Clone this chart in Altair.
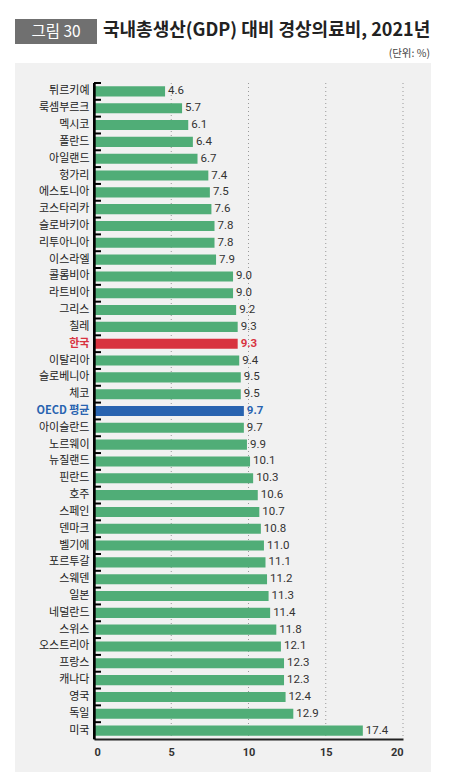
import pandas as pd
import altair as alt

# data (top to bottom)
countries = ["튀르키예", "룩셈부르크", "멕시코", "폴란드", "아일랜드", "헝가리",
             "에스토니아", "코스타리카", "슬로바키아", "리투아니아", "이스라엘",
             "콜롬비아", "라트비아", "그리스", "칠레", "한국", "이탈리아",
             "슬로베니아", "체코", "OECD 평균", "아이슬란드", "노르웨이",
             "뉴질랜드", "핀란드", "호주", "스페인", "덴마크", "벨기에",
             "포르투갈", "스웨덴", "일본", "네덜란드", "스위스", "오스트리아",
             "프랑스", "캐나다", "영국", "독일", "미국"]
values = [4.6, 5.7, 6.1, 6.4, 6.7, 7.4, 7.5, 7.6, 7.8, 7.8, 7.9, 9.0, 9.0,
          9.2, 9.3, 9.3, 9.4, 9.5, 9.5, 9.7, 9.7, 9.9, 10.1, 10.3, 10.6,
          10.7, 10.8, 11.0, 11.1, 11.2, 11.3, 11.4, 11.8, 12.1, 12.3, 12.3,
          12.4, 12.9, 17.4]
x_ticks = [0, 5, 10, 15, 20]

fig_label = "그림 30"
title_text = "국내총생산(GDP) 대비 경상의료비, 2021년"
unit_text = "(단위: %)"

KR = "Noto Sans CJK KR"
W, H = 309, 656
step = H / len(countries)

df = pd.DataFrame({"country": countries, "value": values})
df["group"] = df["country"].map({"한국": "korea", "OECD 평균": "oecd"}).fillna("other")

color = alt.Color("group:N", legend=None,
                  scale=alt.Scale(domain=["other", "korea", "oecd"],
                                  range=["#50ad77", "#d8333f", "#2863b0"]))
y = alt.Y("country:N", sort=countries, title=None,
          scale=alt.Scale(paddingInner=0.4, paddingOuter=0.2),
          axis=alt.Axis(ticks=False, domainColor="black", domainWidth=2.4,
                        labelFont=KR, labelFontSize=11, labelPadding=5,
                        labelColor={"expr": "datum.value == '한국' ? '#d8333f' : datum.value == 'OECD 평균' ? '#2863b0' : '#222'"},
                        labelFontWeight={"expr": "datum.value == '한국' || datum.value == 'OECD 평균' ? 'bold' : 'normal'"},
                        zindex=1))
x = alt.X("value:Q", title=None,
          scale=alt.Scale(domain=[0, 20], nice=False),
          axis=alt.Axis(values=x_ticks, grid=False, ticks=False,
                        domainColor="#222222", domainWidth=2,
                        labelFont="Roboto", labelFontSize=11, labelFontWeight="bold",
                        labelColor="#333", labelPadding=7, zindex=1))

one = pd.DataFrame({"k": [0]})

# grey panel behind the plot
panel = alt.Chart(one).mark_rect(color="#f1f1f1").encode(
    x=alt.value(-79), x2=alt.value(337), y=alt.value(-20), y2=alt.value(689))

# dotted grid lines
grid = alt.Chart(pd.DataFrame({"value": x_ticks[1:]})).mark_rule(
    color="#999", strokeDash=[1, 3], strokeWidth=1).encode(
    x=x, y=alt.value(0), y2=alt.value(H))

bars = alt.Chart(df).mark_bar().encode(x=x, y=y, color=color)

# y axis line drawn on top of the bars
axis_line = alt.Chart(one).mark_rule(color="black", strokeWidth=2).encode(
    x=alt.value(0), y=alt.value(0), y2=alt.value(H))

# small category ticks at the top edge of each band
ticks = alt.Chart(df).mark_rule(color="black", strokeWidth=2, yOffset=-step / 2).encode(
    y=y, x=alt.value(0), x2=alt.value(7))

labels = alt.Chart(df).transform_filter("datum.group == 'other'").mark_text(
    align="left", baseline="middle", dx=3, font="Roboto", fontSize=11.5, color="#333").encode(
    x=x, y=y, text=alt.Text("value:Q", format=".1f"))
hl_labels = alt.Chart(df).transform_filter("datum.group != 'other'").mark_text(
    align="left", baseline="middle", dx=3, font="Roboto", fontSize=11.5, fontWeight="bold").encode(
    x=x, y=y, text=alt.Text("value:Q", format=".1f"), color=color)

# heading
box = alt.Chart(one).mark_rect(color="#707070").encode(
    x=alt.value(-79), x2=alt.value(3), y=alt.value(-64), y2=alt.value(-39))
box_text = alt.Chart(one).mark_text(font=KR, fontSize=15.5, color="white", align="center",
                                    baseline="middle").encode(
    x=alt.value(-38), y=alt.value(-51.5), text=alt.value(fig_label))
title = alt.Chart(one).mark_text(font=KR, fontSize=18, fontWeight="bold", color="#222",
                                 align="left", baseline="middle").encode(
    x=alt.value(9), y=alt.value(-52), text=alt.value(title_text))
unit = alt.Chart(one).mark_text(font=KR, fontSize=10.5, color="#444", align="right",
                                baseline="middle").encode(
    x=alt.value(336), y=alt.value(-29), text=alt.value(unit_text))

chart = alt.layer(panel, grid, bars, axis_line, ticks, labels, hl_labels,
                  box, box_text, title, unit).properties(
    width=W, height=H,
    autosize=alt.AutoSizeParams(type="none"),
    padding={"left": 86, "top": 75, "right": 40, "bottom": 34}
).configure_view(stroke=None)

chart.save("out.html", embed_options={"renderer": "svg", "actions": False})
